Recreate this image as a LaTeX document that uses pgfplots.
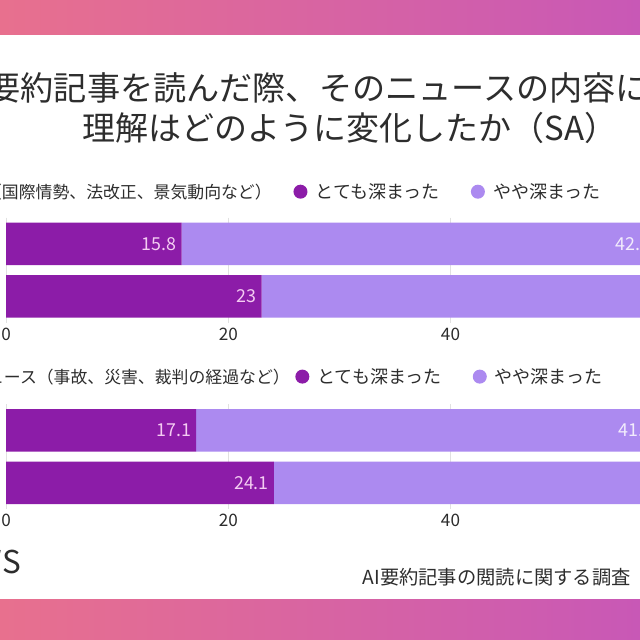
\documentclass[border=0pt]{standalone}
\usepackage{fontspec}
\setmainfont{Noto Sans CJK JP}
\usepackage{pgfplots}
\pgfplotsset{compat=1.18}

\definecolor{darkp}{RGB}{140,28,168}
\definecolor{lightp}{RGB}{172,138,240}
\definecolor{lblD}{RGB}{244,204,242}
\definecolor{lblL}{RGB}{242,236,252}
\definecolor{bandL}{RGB}{232,112,142}
\definecolor{bandR}{RGB}{200,88,182}
\definecolor{txt}{RGB}{45,45,45}
\definecolor{gridc}{RGB}{225,225,225}

% one px of the reference = 0.7pt
\pgfplotsset{
  newsbars/.style={
    xbar stacked,
    bar width=29.75pt,
    x=7.777pt, y=36.75pt,
    xmin=0, xmax=100, ymin=-0.5, ymax=1.5,
    y dir=reverse,
    axis line style={draw=none},
    major tick length=0pt,
    ytick=\empty,
    xtick={0,20,...,100},
    xmajorgrids,
    grid style={gridc, line width=0.6pt},
    tick label style={font=\fontsize{12}{14}\selectfont, text=txt},
    /pgf/number format/assume math mode=true,
    point meta=explicit,
    nodes near coords,
    % labels sit at the middle of a stacked segment: move them to its end
    visualization depends on={rawx \as \rawx},
    every node near coord/.append style={anchor=east, xshift=\rawx*3.8885pt,
      font=\fontsize{12.5}{14}\selectfont},
    legend columns=-1,
    legend style={draw=none, fill=none, inner xsep=0pt, anchor=west,
      font=\fontsize{12.6}{15}\selectfont, text=txt,
      /tikz/every even column/.append style={column sep=20pt}},
  },
  dotlegend/.style={
    legend image code/.code={\fill[##1] (4.9pt,0.6pt) circle (4.9pt); \path (13.5pt,0.6pt);},
  },
}

\begin{document}
\begin{tikzpicture}[x=0.7pt,y=0.7pt]
\useasboundingbox (0,0) rectangle (640,640);
\clip (0,0) rectangle (640,640);
\fill[white] (0,0) rectangle (640,640);
\shade[left color=bandL, right color=bandR] (0,605) rectangle (640,640);
\shade[left color=bandL, right color=bandR] (0,0) rectangle (640,40);

% title
\node[inner sep=0, text=txt, font=\fontsize{23.2}{28}\selectfont] at (353,552)
  {AI要約記事を読んだ際、そのニュースの内容に対する};
\node[inner sep=0, text=txt, font=\fontsize{23.1}{28}\selectfont] at (350,512)
  {理解はどのように変化したか（SA）};

% first chart
\node[anchor=east, inner sep=0, text=txt, font=\fontsize{11.8}{14}\selectfont] at (272,448)
  {硬派ニュース（国際情勢、法改正、景気動向など）};
\begin{axis}[newsbars, dotlegend, at={(4.27pt,295.575pt)}, anchor=north west,
  legend style={at={(axis description cs:0.2584,1.24)}}]
\addplot[fill=darkp, draw=none, every node near coord/.append style={text=lblD}]
  coordinates {(15.8,0) [15.8] (23,1) [23]};
\addlegendentry{とても深まった}
\addplot[fill=lightp, draw=none, every node near coord/.append style={text=lblL}]
  coordinates {(42.6,0) [42.6] (40.2,1) [40.2]};
\addlegendentry{やや深まった}
\end{axis}

% second chart
\node[anchor=east, inner sep=0, text=txt, font=\fontsize{11.8}{14}\selectfont] at (290,263)
  {ソフトニュース（事故、災害、裁判の経過など）};
\begin{axis}[newsbars, dotlegend, at={(4.27pt,165.025pt)}, anchor=north west,
  legend style={at={(axis description cs:0.2601,1.255)}}]
\addplot[fill=darkp, draw=none, every node near coord/.append style={text=lblD}]
  coordinates {(17.1,0) [17.1] (24.1,1) [24.1]};
\addlegendentry{とても深まった}
\addplot[fill=lightp, draw=none, every node near coord/.append style={text=lblL}]
  coordinates {(41.6,0) [41.6] (39.5,1) [39.5]};
\addlegendentry{やや深まった}
\end{axis}

% footer
\node[anchor=east, inner sep=0, text=txt, font=\fontsize{22}{26}\selectfont] at (21,78) {NEWS};
\node[anchor=east, inner sep=0, text=txt, font=\fontsize{13.5}{16}\selectfont] at (631,63)
  {AI要約記事の閲読に関する調査};
\end{tikzpicture}
\end{document}
